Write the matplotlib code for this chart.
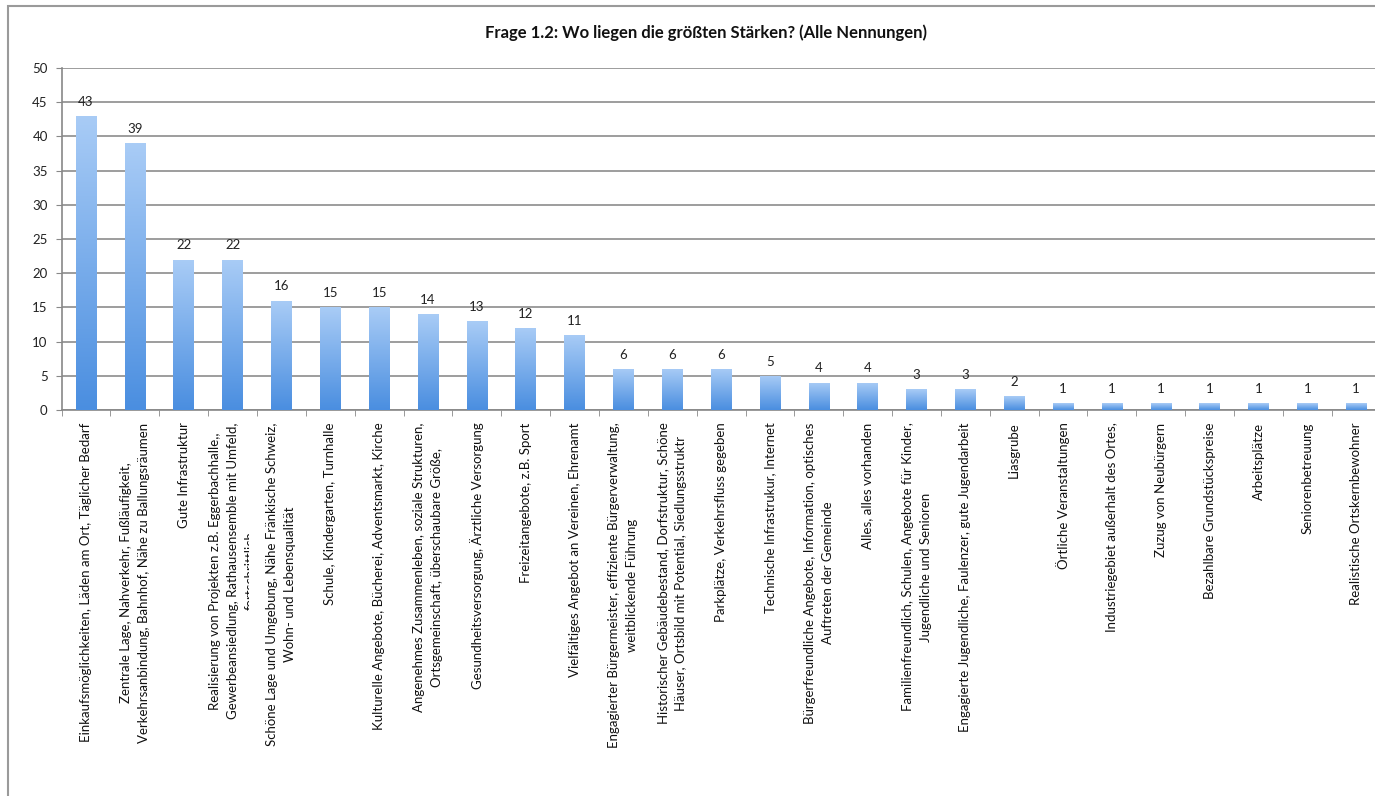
import matplotlib
matplotlib.use("Agg")
import matplotlib.pyplot as plt
import numpy as np
from matplotlib.colors import LinearSegmentedColormap
from matplotlib.transforms import Bbox, TransformedBbox
from matplotlib.patches import Rectangle

title = "Frage 1.2: Wo liegen die größten Stärken? (Alle Nennungen)"

categories = [
    "Einkaufsmöglichkeiten, Läden am Ort, Täglicher Bedarf",
    "Zentrale Lage, Nahverkehr, Fußläufigkeit,\nVerkehrsanbindung, Bahnhof, Nähe zu Ballungsräumen",
    "Gute Infrastruktur",
    "Realisierung von Projekten z.B. Eggerbachhalle,,\nGewerbeansiedlung, Rathausensemble mit Umfeld,\nfortschrittlich",
    "Schöne Lage und Umgebung, Nähe Fränkische Schweiz,\nWohn- und Lebensqualität",
    "Schule, Kindergarten, Turnhalle",
    "Kulturelle Angebote, Bücherei, Adventsmarkt, Kirche",
    "Angenehmes Zusammenleben, soziale Strukturen,\nOrtsgemeinschaft, überschaubare Größe,",
    "Gesundheitsversorgung, Ärztliche Versorgung",
    "Freizeitangebote, z.B. Sport",
    "Vielfältiges Angebot an Vereinen, Ehrenamt",
    "Engagierter Bürgermeister, effiziente Bürgerverwaltung,\nweitblickende Führung",
    "Historischer Gebäudebestand, Dorfstruktur, Schöne\nHäuser, Ortsbild mit Potential, Siedlungsstruktr",
    "Parkplätze, Verkehrsfluss gegeben",
    "Technische Infrastrukur, Internet",
    "Bürgerfreundliche Angebote, Information, optisches\nAuftreten der Gemeinde",
    "Alles, alles vorhanden",
    "Familienfreundlich, Schulen, Angebote für Kinder,\nJugendliche und Senioren",
    "Engagierte Jugendliche, Faulenzer, gute Jugendarbeit",
    "Liasgrube",
    "Örtliche Veranstaltungen",
    "Industriegebiet außerhalt des Ortes,",
    "Zuzug von Neubürgern",
    "Bezahlbare Grundstückspreise",
    "Arbeitsplätze",
    "Seniorenbetreuung",
    "Realistische Ortskernbewohner",
]
values = [43, 39, 22, 22, 16, 15, 15, 14, 13, 12, 11, 6, 6, 6, 5, 4, 4, 3, 3, 2, 1, 1, 1, 1, 1, 1, 1]
y_ticks = [0, 5, 10, 15, 20, 25, 30, 35, 40, 45, 50]

W, H = 1375, 796
fig = plt.figure(figsize=(W / 100, H / 100), dpi=100)
plt.rcParams['font.family'] = ['Lato', 'DejaVu Sans']

# outer chart border
fig.patches.append(Rectangle((8 / W, -0.01), 1.0, (796 - 6) / H + 0.01, transform=fig.transFigure,
                             fill=False, edgecolor='#9a9a9a', linewidth=1.5))

ax_l, ax_r, ax_t, ax_b = 61.6, 1380.6, 68, 410
ax = fig.add_axes([ax_l / W, (H - ax_b) / H, (ax_r - ax_l) / W, (ax_b - ax_t) / H])

n = len(categories)
x = np.arange(n)
bars = ax.bar(x, values, width=0.42, color='none', edgecolor='none', zorder=3)

cmap = LinearSegmentedColormap.from_list('bl', ['#4a8ee0', '#a9ccf6'])
grad = np.linspace(0, 1, 256).reshape(-1, 1)
for b in bars:
    x0, y0 = b.get_x(), b.get_y()
    w, h = b.get_width(), b.get_height()
    im = ax.imshow(grad, cmap=cmap, aspect='auto', origin='lower',
                   extent=(x0, x0 + w, y0, y0 + h), zorder=3)
    im.set_clip_path(b)

for xi, v in zip(x, values):
    ax.text(xi, v + 1.2, str(v), ha='center', va='bottom', fontsize=9.5, color='#222222', zorder=4)

ax.set_xlim(-0.5, n - 0.5)
ax.set_ylim(0, 50)
ax.set_yticks(y_ticks)
ax.tick_params(axis='y', labelsize=9.5, colors='#222222', length=4, color='#888888', pad=6)
ax.yaxis.grid(True, color='#8c8c8c', linewidth=1.2, zorder=0)
ax.set_axisbelow(True)

ax.set_xticks(x)
ax.set_xticklabels(categories, rotation=90, ha='center', va='top', fontsize=9.5,
                   multialignment='center', color='#111111', linespacing=1.6)
ax.tick_params(axis='x', length=0, pad=9)
ax.set_xticks(np.arange(-0.5, n, 1.0), minor=True)
ax.tick_params(axis='x', which='minor', length=4, color='#888888')

for s in ['top', 'right']:
    ax.spines[s].set_visible(False)
ax.spines['left'].set_color('#888888')
ax.spines['bottom'].set_color('#888888')
ax.spines['left'].set_linewidth(1.2)
ax.spines['bottom'].set_linewidth(1.2)

fig.text(706 / W, 1 - 33 / H, title, ha='center', va='center', fontsize=12, fontweight='bold', color='#111111')

# clip the overflowing third line of the 4th label, as in the reference
lbl = ax.get_xticklabels()[3]
lbl.set_clip_on(True)
lbl.set_clip_box(TransformedBbox(Bbox.from_extents(0, 0, 249 / W, 1), fig.transFigure))

fig.savefig('out.png', dpi=100)
